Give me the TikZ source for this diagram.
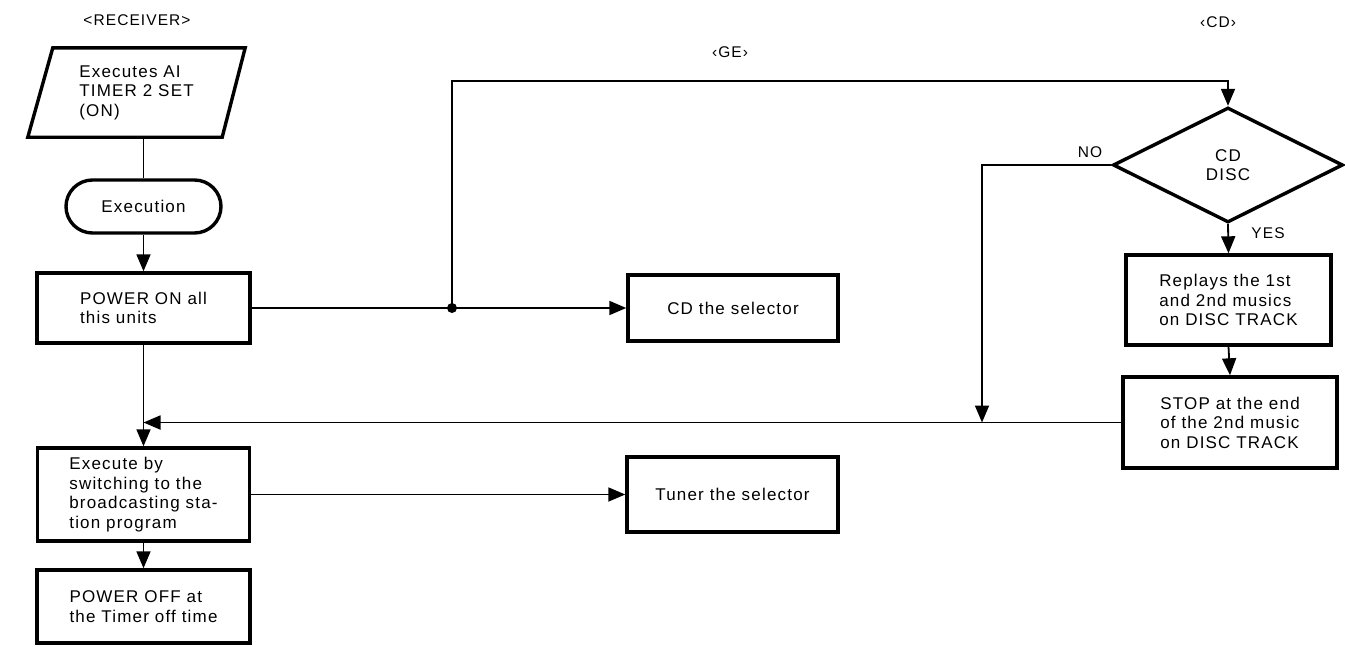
\documentclass[tikz,border=0pt]{standalone}
\usepackage{fontspec}
\setmainfont{Liberation Sans}[LetterSpace=7]
\usetikzlibrary{shapes.geometric,shapes.misc,arrows.meta,calc}
\begin{document}
\begin{tikzpicture}[x=1pt,y=-1pt,
  every node/.style={font=\fontsize{17}{19.5}\selectfont, inner sep=0pt},
  box/.style={draw, line width=3.4pt, rectangle, align=left},
  conn/.style={line width=1.8pt},
  arr/.style={conn, -{Triangle[length=17pt,width=14pt]}},
  lbl/.style={font=\fontsize{15.5}{18}\selectfont}]
\useasboundingbox (0,0) rectangle (1345,646);
% labels
\node[lbl] (recv) at (137,20) {<RECEIVER>};
\node[lbl] (ge) at (730,52) {‹GE›};
\node[lbl] (cd) at (1218,22) {‹CD›};
% parallelogram
\node[align=left, minimum width=217pt, minimum height=89pt] (pl) at (136.5,92.5) {Executes AI\\TIMER 2 SET\\(ON)};
\draw[line width=3.4pt, line join=miter] ($(pl.north west)+(25,0)$) -- (pl.north east) -- ($(pl.south east)+(-23,0)$) -- (pl.south west) -- cycle;
% left column
\node[draw, line width=3.4pt, rounded rectangle, minimum width=155pt, minimum height=53pt] (exe) at (143.5,206.5) {Execution};
\node[box, minimum width=213pt, minimum height=70pt] (pon) at (143.5,308) {POWER ON all\\this units};
\node[box, minimum width=212pt, minimum height=93pt] (exb) at (143.5,494.5) {Execute by\\switching to the\\broadcasting sta-\\tion program};
\node[box, minimum width=213pt, minimum height=73pt] (pof) at (143.5,606.5) {POWER OFF at\\the Timer off time};
% middle
\node[box, minimum width=210pt, minimum height=66pt] (cdsel) at (733,308) {CD the selector};
\node[box, minimum width=211pt, minimum height=75pt] (tun) at (732.5,494.5) {Tuner the selector};
% right column
\node[draw, line width=3.4pt, diamond, minimum width=230pt, minimum height=115pt, align=center] (dia) at (1228,165) {CD\\DISC};
\node[box, minimum width=205pt, minimum height=90pt] (rep) at (1228.5,300) {Replays the 1st\\and 2nd musics\\on DISC TRACK};
\node[box, minimum width=214pt, minimum height=91pt] (stop) at (1230,422.5) {STOP at the end\\of the 2nd music\\on DISC TRACK};
\node[lbl] (yes) at (1268,233) {YES};
\node[lbl] (no) at (1090,152) {NO};
% coordinates
\coordinate (j) at (452,308);
\coordinate (top) at (452,81);
\coordinate (nc) at (982,165);
\coordinate (nd) at (982,422.5);
\coordinate (fb) at (143.5,422.5);
% connectors
\draw[conn] (exe.north |- pl.south) -- (exe.north);
\draw[arr] (exe.south) -- (pon.north);
\draw[arr] (pon.south) -- (exb.north);
\draw[arr] (exb.south) -- (pof.north);
\draw[arr] (pon.east) -- (cdsel.west);
\fill (j) circle (5pt);
\draw[arr] (j) -- (top) -| (dia.north);
\draw[arr] (exb.east) -- (tun.west);
\draw[arr] (dia.south) -- (rep.north);
\draw[arr] (rep.south) -- (stop.north);
\draw[arr] (dia.west) -- (nc) -- (nd);
\draw[arr] (stop.west) -- (fb);
\end{tikzpicture}
\end{document}
